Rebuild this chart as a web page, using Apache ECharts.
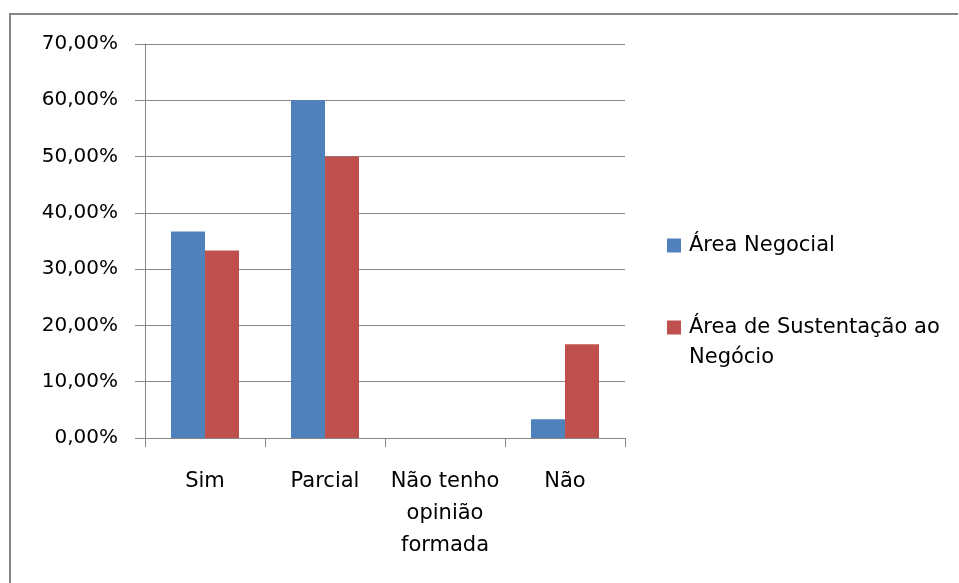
<!DOCTYPE html>
<html>
<head>
<meta charset="utf-8">
<script src="https://cdn.jsdelivr.net/npm/echarts@6/dist/echarts.min.js"></script>
<style>
  html, body { margin: 0; padding: 0; background: #fff; }
  #chart { width: 959px; height: 583px; }
</style>
</head>
<body>
<div id="chart"></div>
<script>
// Survey answers per category, as fractions of respondents
const categories = ['Sim', 'Parcial', 'Não tenho opinião formada', 'Não'];
const seriesNames = ['Área Negocial', 'Área de Sustentação ao Negócio'];
const areaNegocial = [0.3667, 0.60, 0, 0.0333];
const areaSustentacao = [0.3333, 0.50, 0, 0.1667];
const yTicks = [0, 0.1, 0.2, 0.3, 0.4, 0.5, 0.6, 0.7];

const gray = '#868686';
const font = 'DejaVu Sans';

const pct = v => (v * 100).toFixed(2).replace('.', ',') + '%';

// Legend text: each line tagged so it gets the same left offset;
// a blank leading line keeps the first text line level with the swatch.
const legendRich = {
  t: { fontFamily: font, fontSize: 21, color: '#000', lineHeight: 30, padding: [0, 0, 0, 3] }
};
const wrapLegend = (name, breakAt) => {
  const lines = breakAt ? name.replace(breakAt, breakAt.trim() + '\n').split('\n') : [name];
  const tagged = lines.map(l => '{t|' + l.trim() + '}');
  return breakAt ? '{t| }\n' + tagged.join('\n') : tagged.join('\n');
};

const chart = echarts.init(document.getElementById('chart'), null, { renderer: 'canvas' });

chart.setOption({
  animation: false,
  backgroundColor: '#fff',
  textStyle: { fontFamily: font },
  grid: { left: 145, top: 44, width: 480, height: 394, containLabel: false },
  legend: [
    {
      data: [seriesNames[0]],
      orient: 'vertical',
      left: 667,
      top: 235,
      padding: 0,
      itemWidth: 14,
      itemHeight: 14,
      icon: 'rect',
      selectedMode: false,
      formatter: name => wrapLegend(name, null),
      textStyle: { rich: legendRich }
    },
    {
      data: [seriesNames[1]],
      orient: 'vertical',
      left: 667,
      top: 287,
      padding: 0,
      itemWidth: 14,
      itemHeight: 14,
      icon: 'rect',
      selectedMode: false,
      formatter: name => wrapLegend(name, 'ao '),
      textStyle: { rich: legendRich }
    }
  ],
  xAxis: {
    type: 'category',
    data: categories,
    axisLine: { lineStyle: { color: gray, width: 1 } },
    axisTick: { show: true, alignWithLabel: false, length: 9, lineStyle: { color: gray } },
    axisLabel: {
      interval: 0,
      color: '#000',
      fontFamily: font,
      fontSize: 21,
      lineHeight: 32,
      margin: 28,
      width: 118,
      overflow: 'break'
    },
    splitLine: { show: false }
  },
  yAxis: {
    type: 'value',
    min: yTicks[0],
    max: yTicks[yTicks.length - 1],
    interval: yTicks[1] - yTicks[0],
    axisLine: { show: true, lineStyle: { color: gray, width: 1 } },
    axisTick: { show: true, length: 10, lineStyle: { color: gray } },
    axisLabel: {
      color: '#000',
      fontFamily: font,
      fontSize: 20,
      margin: 27,
      formatter: v => pct(v)
    },
    splitLine: { show: true, lineStyle: { color: gray, width: 1 } }
  },
  series: [
    {
      name: seriesNames[0],
      type: 'bar',
      data: areaNegocial,
      barWidth: 34,
      barGap: '0%',
      itemStyle: { color: '#4F81BD' }
    },
    {
      name: seriesNames[1],
      type: 'bar',
      data: areaSustentacao,
      barWidth: 34,
      barGap: '0%',
      itemStyle: { color: '#C0504D' }
    }
  ],
  graphic: [
    {
      type: 'polyline',
      shape: { points: [[10, 583], [10, 14], [958, 14]] },
      style: { stroke: gray, lineWidth: 2, fill: null },
      silent: true
    }
  ]
});
</script>
</body>
</html>
